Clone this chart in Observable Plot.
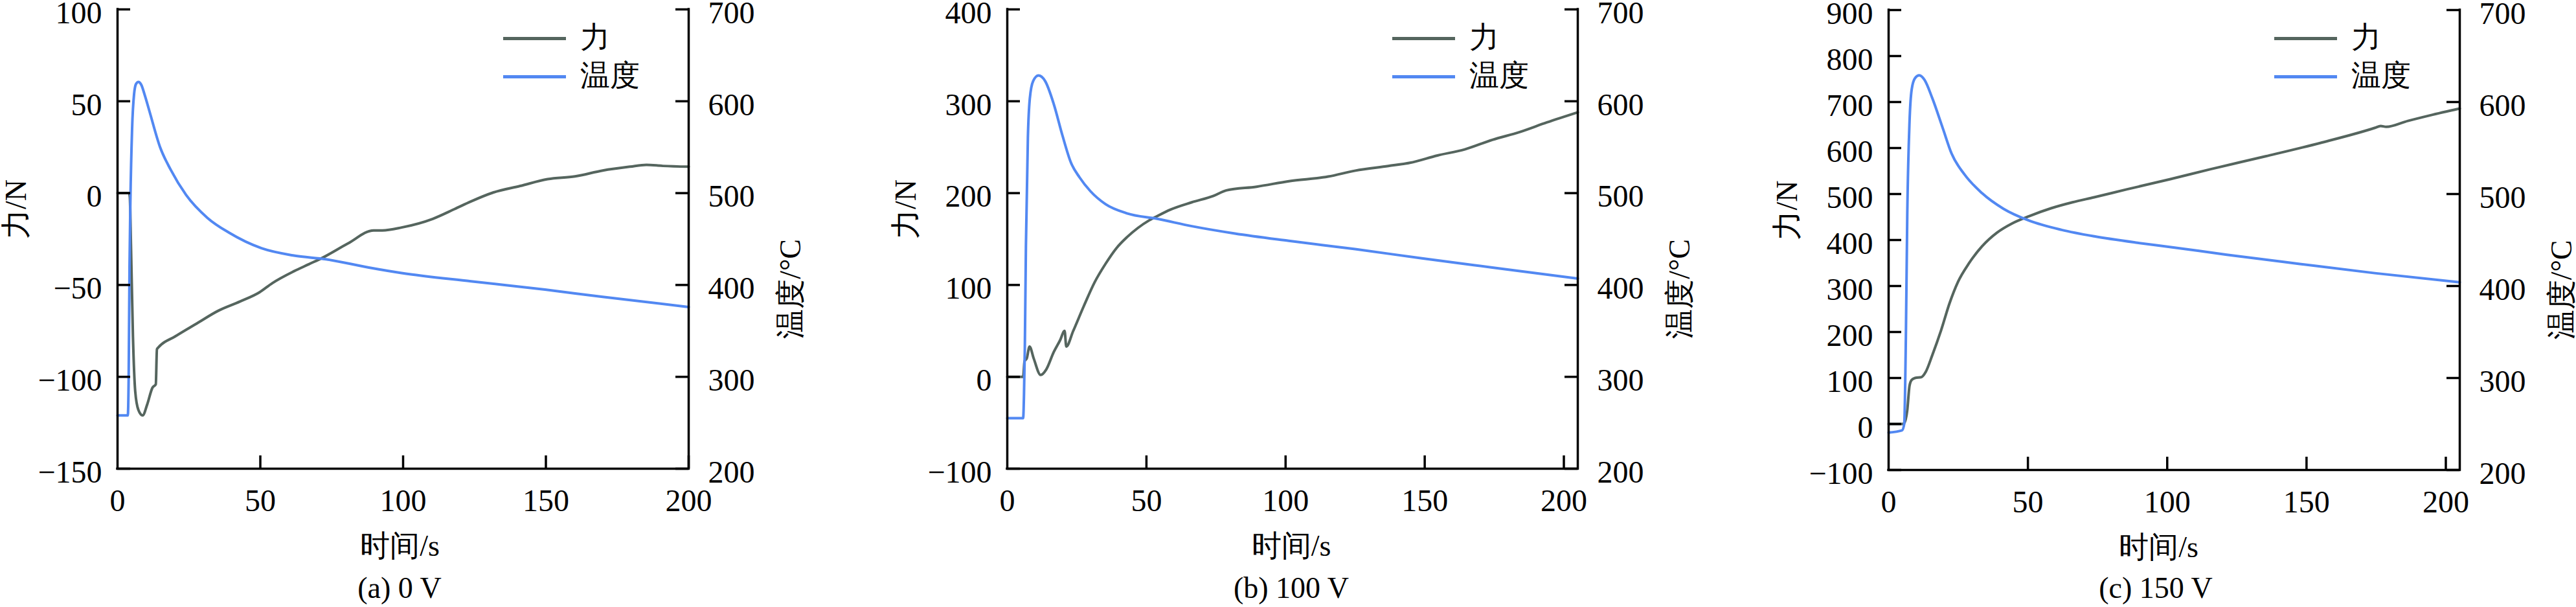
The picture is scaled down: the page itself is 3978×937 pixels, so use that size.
<!DOCTYPE html>
<html><head><meta charset="utf-8">
<script src="https://cdn.jsdelivr.net/npm/d3@7"></script>
<script src="https://cdn.jsdelivr.net/npm/@observablehq/plot@0.6"></script>
<style>
body{margin:0;background:#fff;}
#row{display:flex;width:3978px;height:937px;}
.panel{position:relative;width:1326px;height:937px;}
.panel svg{display:block;}
.txt{position:absolute;font-family:"Liberation Serif";font-size:46px;line-height:46px;color:#000;white-space:nowrap;}
.sw{position:absolute;height:5px;}
</style></head><body><div id="row"></div><script>
// ---------- data ----------
const xTicks = [0, 50, 100, 150, 200];
const tempTicks = [200, 300, 400, 500, 600, 700];
const forceTicksA = [-150, -100, -50, 0, 50, 100];
const forceTicksB = [-100, 0, 100, 200, 300, 400];
const forceTicksC = [-100, 0, 100, 200, 300, 400, 500, 600, 700, 800, 900];
const captions = ["(a) 0 V", "(b) 100 V", "(c) 150 V"];
const timeLabel = "时间/s", forceLabel = "力/N", tempLabel = "温度/°C";
const seriesNames = ["力", "温度"];

// (a) 0 V
const timeForceA = [0,4.0,4.3,4.7,5.4,6.2,7.3,8.8,10.4,12.2,13.4,13.8,14.3,20.2,27.7,35.3,42.9,49.7,54.2,61.8,67,72,80.6,89.7,92.7,99.5,110.4,118,123.8,131.5,141,150.6,160.2,169.9,179.5,185.2,191,200];
const forceA     = [0,0,-2,-28,-78,-108,-118,-121,-115,-106,-104,-85,-84,-78,-71,-64,-59,-54,-49,-42.5,-38.7,-35,-27.5,-20.3,-20.3,-18.7,-14,-8.7,-4.5,0.3,3.9,7.6,9.1,12.3,14.4,15.4,14.8,14.4];
const timeTempA  = [0,3.6,3.9,4.2,4.5,5.1,5.8,6.5,7.3,8.3,9.5,11.1,14.9,18.7,24,31.5,39,50.4,61.8,73,88,99.5,123.8,149.7,169.9,200];
const tempA      = [258,258,300,420,490,570,608,619,621,618,607,590,550,525,498,473,457,440,432,428,419,413,404,395,387,376];

// (b) 100 V
const timeForceB = [0,5.7,6.2,7.0,8.0,9.5,12,14,16.7,19,20.6,21.2,23.7,27.5,31.4,35.3,39.2,43,46.9,50.8,53.9,58.6,66.3,74.1,78.7,89.6,101.2,115.3,125.1,136.9,144.7,154.6,164.4,174.3,184.1,193.9,205];
const forceB     = [0,0,17,20,33,20,2,8,27,40,50,33,50,77,103,123,140,152,162,170,175,182,190,197,203,207,213,218,224.5,229.5,233,241,247.6,258,266.5,277,288];
const timeTempB  = [0,5.7,6.0,6.3,6.7,7.4,8.1,9.3,11.2,13.6,16.7,19.8,22.9,26,29.9,35.3,43,53.9,66.3,81.8,101.2,125,149,174.3,205];
const tempB      = [255,255,280,330,443,560,603,622,628,622,597,563,533,517,502,488,478,472,464,456,448,439,429,419,407];

// (c) 150 V
const timeForceC = [0,5,5.6,6.7,7.5,8.3,9.5,11.8,13.3,15.7,18.8,21.9,24.9,28.8,33.5,38.9,44.3,50.5,58.3,66,73.8,85.4,100.9,115.6,135.3,154.9,174.6,176.6,178.6,186.4,194.3,205];
const forceC     = [0,0,2,30,83,96,100,102,113,150,203,263,309,349,386,416,436,452,469,482,493,510,532,554,582,611,644,648,646,659,671,686];
const timeTempC  = [0,4.8,5.6,6.2,6.7,7.5,8.3,9.5,11,12.9,15.7,19.5,22.6,27.3,33.5,41.2,50.5,62.1,73.8,89.3,100.9,121.4,147.6,174.5,205];
const tempC      = [240.6,243,250,345,478,578,614,626,629,624,604,571,544,521,501,484,471,461,454,447,442.5,434,424,414,404];

// ---------- layout / style ----------
const W = 1326, H = 937;
const forceColor = "#55655e", tempColor = "#5288f2";
const FONT = "Liberation Serif";
const layouts = [
  {ml:181, mr:263, mt:14, mb:214, xDomain:[0,200], xLabelDx:-5,  capX:617},
  {ml:229, mr:216, mt:14, mb:214, xDomain:[0,205], xLabelDx:-2,  capX:668},
  {ml:264, mr:180, mt:15, mb:212, xDomain:[0,205], xLabelDx:-24, capX:677}
];
const panelsData = [
  {tF: timeForceA, F: forceA, tT: timeTempA, T: tempA, yTicks: forceTicksA},
  {tF: timeForceB, F: forceB, tT: timeTempB, T: tempB, yTicks: forceTicksB},
  {tF: timeForceC, F: forceC, tT: timeTempC, T: tempC, yTicks: forceTicksC}
];
const fmt = d => d < 0 ? "\u2212" + Math.abs(d) : String(d);
const row = document.getElementById("row");

panelsData.forEach((p, i) => {
  const L = layouts[i];
  const yDomain = [d3.min(p.yTicks), d3.max(p.yTicks)];
  const t2f = d3.scaleLinear([200, 700], yDomain);
  const innerW = W - L.ml - L.mr, innerH = H - L.mt - L.mb;
  const forceData = p.tF.map((t, k) => ({t, v: p.F[k]}));
  const tempData = p.tT.map((t, k) => ({t, v: p.T[k]}));
  const axisStyle = {stroke: "#000", strokeWidth: 3.5, strokeLinecap: "square"};
  const num = {fontSize: 48, fontFamily: FONT, fill: "#000"};
  const ttl = {fontSize: 46, fontFamily: FONT, fill: "#000"};
  const chart = Plot.plot({
    width: W, height: H,
    marginLeft: L.ml, marginRight: L.mr, marginTop: L.mt, marginBottom: L.mb,
    x: {domain: L.xDomain},
    y: {domain: yDomain},
    style: {background: "#fff", color: "#000", overflow: "visible"},
    marks: [
      Plot.line(forceData, {x: "t", y: "v", stroke: forceColor, strokeWidth: 4, curve: "monotone-x"}),
      Plot.line(tempData, {x: "t", y: d => t2f(d.v), stroke: tempColor, strokeWidth: 4, curve: "monotone-x"}),
      Plot.ruleX(L.xDomain, axisStyle),
      Plot.ruleY([yDomain[0]], axisStyle),
      Plot.tickY(p.yTicks, {y: d => d, insetRight: innerW - 20, stroke: "#000", strokeWidth: 3.5}),
      Plot.tickY(tempTicks.map(t2f), {y: d => d, insetLeft: innerW - 20, stroke: "#000", strokeWidth: 3.5}),
      Plot.tickX(xTicks.slice(1), {x: d => d, insetTop: innerH - 20, stroke: "#000", strokeWidth: 3.5}),
      Plot.axisY(p.yTicks, {anchor: "left", tickSize: 0, tickPadding: 24, dy: 6, tickFormat: fmt, label: null, ...num}),
      Plot.axisY(tempTicks.map(t2f), {anchor: "right", tickSize: 0, tickPadding: 30, dy: 6, tickFormat: f => fmt(Math.round(t2f.invert(f))), label: null, ...num}),
      Plot.axisX(xTicks, {anchor: "bottom", tickSize: 0, tickPadding: 31, tickFormat: fmt, label: null, ...num}),
      Plot.text([timeLabel], {text: d => d, frameAnchor: "bottom", dy: 120, dx: L.xLabelDx, lineAnchor: "middle", ...ttl}),
      Plot.text([forceLabel], {text: d => d, frameAnchor: "left", dx: -156, rotate: -90, lineAnchor: "middle", ...ttl}),
      Plot.text([tempLabel], {text: d => d, frameAnchor: "right", dx: 158, rotate: -90, lineAnchor: "middle", ...ttl})
    ]
  });
  const div = document.createElement("div");
  div.className = "panel";
  div.appendChild(chart);
  // legend
  const rA = W - L.mr;
  [[forceColor, 59], [tempColor, 118]].forEach(([c, y], k) => {
    const sw = document.createElement("div");
    sw.className = "sw";
    sw.style.cssText = `left:${rA - 286}px;top:${y - 2.5}px;width:97px;background:${c};`;
    div.appendChild(sw);
    const tx = document.createElement("div");
    tx.className = "txt";
    tx.style.left = (rA - 167) + "px";
    tx.style.top = (y - 24) + "px";
    tx.textContent = seriesNames[k];
    div.appendChild(tx);
  });
  // caption
  const cap = document.createElement("div");
  cap.className = "txt";
  cap.style.cssText = `left:${L.capX - 200}px;width:400px;text-align:center;top:885px;`;
  cap.textContent = captions[i];
  div.appendChild(cap);
  row.appendChild(div);
});
</script></body></html>
